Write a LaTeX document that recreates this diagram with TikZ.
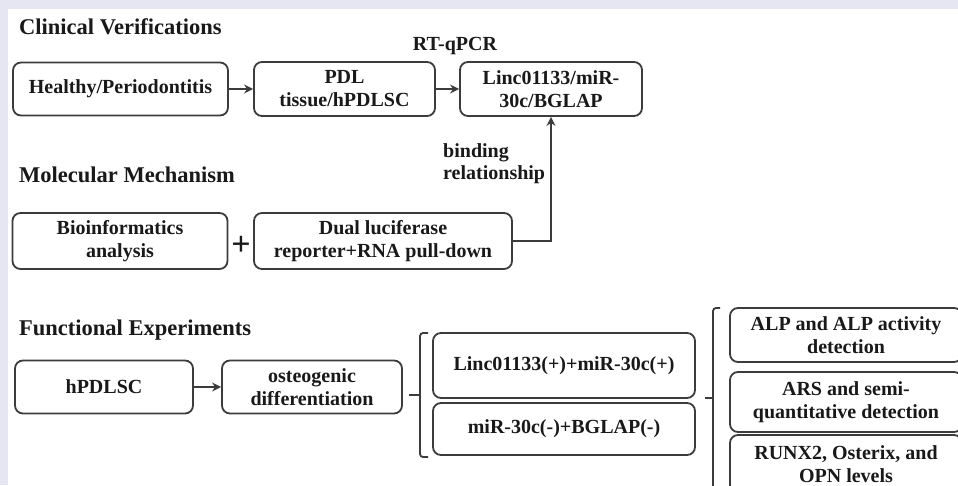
\documentclass[tikz,border=0pt]{standalone}
\usepackage{fontspec}
\setmainfont{Liberation Serif}
\usetikzlibrary{arrows.meta}
\definecolor{bgc}{RGB}{230,230,243}
\definecolor{boxc}{RGB}{60,60,60}
\definecolor{txtc}{RGB}{25,25,25}
\begin{document}
\begin{tikzpicture}[x=1pt,y=-1pt,
  box/.style={draw=boxc, line width=1.8pt, rounded corners=8pt, align=center, inner sep=0pt, font=\fontsize{20}{23}\selectfont\bfseries, text=txtc},
  ttl/.style={anchor=base west, inner sep=0pt, font=\fontsize{22.5}{26}\selectfont\bfseries, text=txtc},
  lbl/.style={inner sep=0pt, font=\fontsize{20}{22}\selectfont\bfseries, text=txtc},
  arr/.style={draw=boxc, line width=1.8pt, -{Stealth[length=9pt,width=9pt]}},
  ln/.style={draw=boxc, line width=1.8pt}
]
\useasboundingbox (0,0) rectangle (958,485);
\fill[bgc] (0,0) rectangle (958,485);
\fill[white] (8,9) rectangle (958,485);
\clip (0,0) rectangle (958,485);

% titles
\node[ttl] (t1) at (19,34) {Clinical Verifications};
\node[ttl] (t2) at (19,182) {Molecular Mechanism};
\node[ttl] (t3) at (19,335) {Functional Experiments};

% row 1
\node[box, minimum width=215pt, minimum height=53pt] (hp) at (120.5,89) {Healthy/Periodontitis};
\node[box, minimum width=181pt, minimum height=54pt] (pdl) at (344.5,89) {PDL\\tissue/hPDLSC};
\node[box, minimum width=182pt, minimum height=54pt] (linc) at (551,89) {Linc01133/miR-\\30c/BGLAP};
\node[lbl, anchor=base] (rt) at (455,50) {RT-qPCR};
\draw[arr] (hp) -- (pdl);
\draw[arr] (pdl) -- (linc);

% row 2
\node[box, minimum width=215pt, minimum height=56pt] (bio) at (120,241) {Bioinformatics\\analysis};
\node[box, minimum width=258pt, minimum height=56pt] (dual) at (383,241) {Dual luciferase\\reporter+RNA pull-down};
\node[inner sep=0pt, text=txtc, font=\fontsize{34}{34}\selectfont\bfseries] (plus) at (241,246) {+};
\node[lbl, anchor=west, align=left] (bind) at (443,164) {binding\\relationship};
\draw[arr] (dual.east) -| (linc.south);

% row 3
\node[box, minimum width=178pt, minimum height=53pt] (hpd) at (104,387) {hPDLSC};
\node[box, minimum width=180pt, minimum height=53pt] (ost) at (312,387) {osteogenic\\differentiation};
\draw[arr] (hpd) -- (ost);

\node[box, minimum width=262pt, minimum height=65pt] (l2) at (564,365.5) {Linc01133(+)+miR-30c(+)};
\node[box, minimum width=262pt, minimum height=52pt] (m2) at (564,429) {miR-30c(-)+BGLAP(-)};

\node[box, minimum width=232pt, minimum height=54pt] (alp) at (846,335) {ALP and ALP activity\\detection};
\node[box, minimum width=232pt, minimum height=60pt] (ars) at (846,402) {ARS and semi-\\quantitative detection};
\node[box, minimum width=232pt, minimum height=58pt] (run) at (846,464) {RUNX2, Osterix, and\\OPN levels};

% bracket 1
\coordinate (b1a) at (409,395);
\coordinate (b1m) at (420,395);
\coordinate (b1t) at (428,333);
\coordinate (b1b) at (428,457);
\draw[ln] (b1a) -- (b1m);
\draw[ln, rounded corners=3pt] (b1t) -- (420,333) -- (420,457) -- (b1b);

% bracket 2
\coordinate (b2a) at (705,398);
\coordinate (b2m) at (713,398);
\coordinate (b2t) at (720,308);
\coordinate (b2b) at (713,495);
\draw[ln] (b2a) -- (b2m);
\draw[ln, rounded corners=3pt] (b2t) -- (713,308) -- (b2b);
\end{tikzpicture}
\end{document}
